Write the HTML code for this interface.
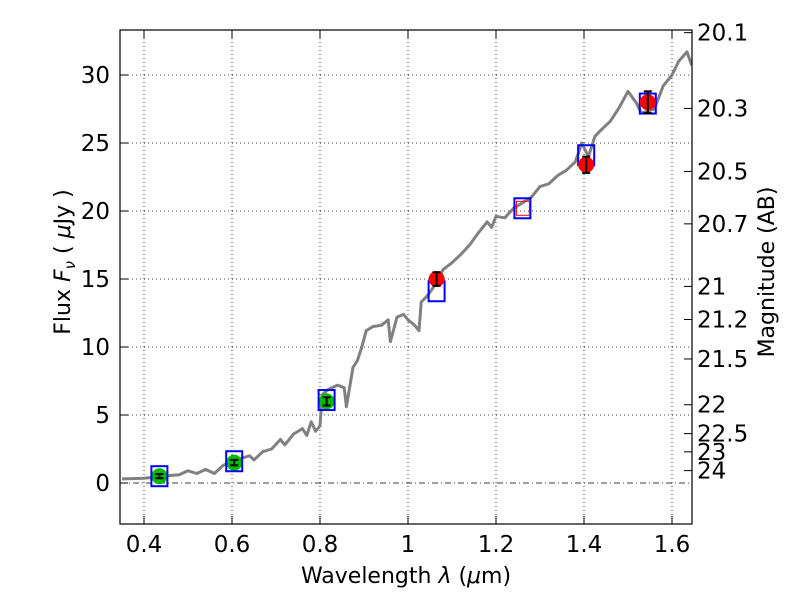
<!DOCTYPE html>
<html><head><meta charset="utf-8"><style>
body{margin:0;background:#fff;}
svg text{font-family:"DejaVu Sans","Liberation Sans",sans-serif;fill:#000;}
</style></head><body>
<svg id="chart" width="800" height="600" xmlns="http://www.w3.org/2000/svg">
<rect width="800" height="600" fill="#fff"/>
<defs><clipPath id="pc"><rect x="120" y="30" width="572" height="494"/></clipPath></defs>
<g id="grid"></g>
<g id="spec" clip-path="url(#pc)"></g>
<g id="marks"></g>
<rect x="120" y="30" width="572" height="494" fill="none" stroke="#000" stroke-width="1.2"/>
<g id="axes"></g>
<text x="406" y="583" font-size="22" text-anchor="middle">Wavelength  <tspan font-style="italic">λ</tspan> (<tspan font-style="italic">μ</tspan>m)</text>
<text transform="translate(70,262) rotate(-90)" font-size="22" text-anchor="middle">Flux  <tspan font-style="italic">F<tspan font-size="15" dy="5">ν</tspan></tspan><tspan dy="-5">  ( </tspan><tspan font-style="italic">μ</tspan>Jy )</text>
<text transform="translate(774,272) rotate(-90)" font-size="22" text-anchor="middle">Magnitude (AB)</text>
</svg>
<script>
const xTicks=[0.4,0.6,0.8,1,1.2,1.4,1.6];
const xTickLabels=["0.4","0.6","0.8","1","1.2","1.4","1.6"];
const yTicks=[0,5,10,15,20,25,30];
const magTicks=[20.1,20.3,20.5,20.7,21,21.2,21.5,22,22.5,23,24];
const specWave=[0.35,0.40,0.43,0.46,0.48,0.50,0.52,0.54,0.56,0.58,0.60,0.62,0.64,0.65,0.67,0.69,0.71,0.72,0.74,0.76,0.77,0.78,0.79,0.80,0.805,0.82,0.84,0.855,0.86,0.875,0.885,0.895,0.905,0.92,0.94,0.955,0.96,0.975,0.99,1.0,1.015,1.025,1.03,1.045,1.06,1.08,1.1,1.12,1.14,1.16,1.18,1.19,1.2,1.22,1.24,1.26,1.28,1.3,1.32,1.34,1.36,1.38,1.395,1.41,1.425,1.44,1.46,1.48,1.50,1.52,1.53,1.56,1.58,1.60,1.615,1.634,1.645];
const specFlux=[0.3,0.35,0.45,0.55,0.6,0.9,0.7,1.0,0.7,1.3,1.6,1.8,2.0,1.7,2.3,2.5,3.2,2.8,3.6,4.0,3.5,4.5,3.8,4.2,6.5,6.9,7.2,7.0,5.6,8.5,9.0,10.0,11.2,11.5,11.6,12.0,10.4,12.2,12.4,12.0,11.6,11.2,13.3,13.8,14.5,15.7,16.2,16.8,17.5,18.4,19.2,18.8,19.6,19.5,20.2,20.6,21.0,21.8,22.0,22.6,23.0,23.6,25.0,24.0,25.5,26.0,26.6,27.6,28.8,27.9,27.2,27.5,29.2,30.0,31.0,31.7,30.7];
const greenWave=[0.435,0.605,0.815];
const greenFlux=[0.5,1.5,6.0];
const greenErr=[0.15,0.2,0.3];
const redWave=[1.065,1.405,1.545];
const redFlux=[15.0,23.4,28.0];
const redErr=[0.5,0.6,0.8];
const boxWave=[0.435,0.605,0.815,1.065,1.26,1.405,1.545];
const boxFlux=[0.5,1.6,6.1,14.1,20.2,24.1,27.9];

const NS="http://www.w3.org/2000/svg";
const X=v=>408+(v-1)*440;
const Y=v=>483-v*13.6;
const magToFlux=m=>Math.pow(10,(23.9-m)/2.5);
function mk(parent,tag,attrs){const e=document.createElementNS(NS,tag);for(const k in attrs)e.setAttribute(k,attrs[k]);document.getElementById(parent).appendChild(e);return e;}

xTicks.forEach((t,i)=>{
  let g=mk('grid','line',{x1:X(t),x2:X(t),y1:30,y2:524,stroke:'#000','stroke-width':0.8,'stroke-dasharray':'1,3'});
  
  
  mk('axes','line',{x1:X(t),x2:X(t),y1:524,y2:516,stroke:'#000'});
  mk('axes','line',{x1:X(t),x2:X(t),y1:30,y2:38,stroke:'#000'});
  let tx=mk('axes','text',{x:X(t),y:552,'font-size':23,'text-anchor':'middle'});
  tx.textContent=xTickLabels[i];
  
  
});
yTicks.forEach(t=>{
  let g=mk('grid','line',{x1:120,x2:692,y1:Y(t),y2:Y(t),stroke:'#000','stroke-width':0.8,'stroke-dasharray':t===0?'6,3,1,3':'1,3'});
  
  
  mk('axes','line',{x1:120,x2:128,y1:Y(t),y2:Y(t),stroke:'#000'});
  let tx=mk('axes','text',{x:110,y:Y(t)+8,'font-size':23,'text-anchor':'end'});
  tx.textContent=String(t);
  
  
});
magTicks.forEach(m=>{
  const y=Y(magToFlux(m));
  mk('axes','line',{x1:692,x2:684,y1:y,y2:y,stroke:'#000'});
  let tx=mk('axes','text',{x:697,y:y+8,'font-size':23,'text-anchor':'start'});
  tx.textContent=String(m);
  
  
});
let d=specWave.map((w,i)=>(i?'L':'M')+X(w).toFixed(1)+','+Y(specFlux[i]).toFixed(1)).join('');
let sp=mk('spec','path',{d:d,fill:'none',stroke:'#808080','stroke-width':3,'stroke-linejoin':'round'});


function errbar(x,y,e){
  const y1=Y(y-e),y2=Y(y+e);
  mk('marks','line',{x1:x,x2:x,y1:y1,y2:y2,stroke:'#000','stroke-width':2});
  mk('marks','line',{x1:x-4,x2:x+4,y1:y1,y2:y1,stroke:'#000','stroke-width':2});
  mk('marks','line',{x1:x-4,x2:x+4,y1:y2,y2:y2,stroke:'#000','stroke-width':2});
}
greenWave.forEach((w,i)=>{
  let c=mk('marks','circle',{cx:X(w),cy:Y(greenFlux[i]),r:8,fill:'#00bb00'});
  
  
  errbar(X(w),greenFlux[i],greenErr[i]);
});
boxWave.forEach((w,i)=>{
  let b=mk('marks','rect',{x:X(w)-8,y:Y(boxFlux[i])-10,width:16,height:20,fill:'none',stroke:'#0000ff','stroke-width':2});
  
  
});
mk('marks','rect',{x:X(1.26)-6,y:Y(20.2)-7,width:13,height:14,fill:'none',stroke:'#ff0000','stroke-width':1});
redWave.forEach((w,i)=>{
  let c=mk('marks','circle',{cx:X(w),cy:Y(redFlux[i]),r:8,fill:'#ff0000'});
  
  
  errbar(X(w),redFlux[i],redErr[i]);
});
</script>
</body></html>
